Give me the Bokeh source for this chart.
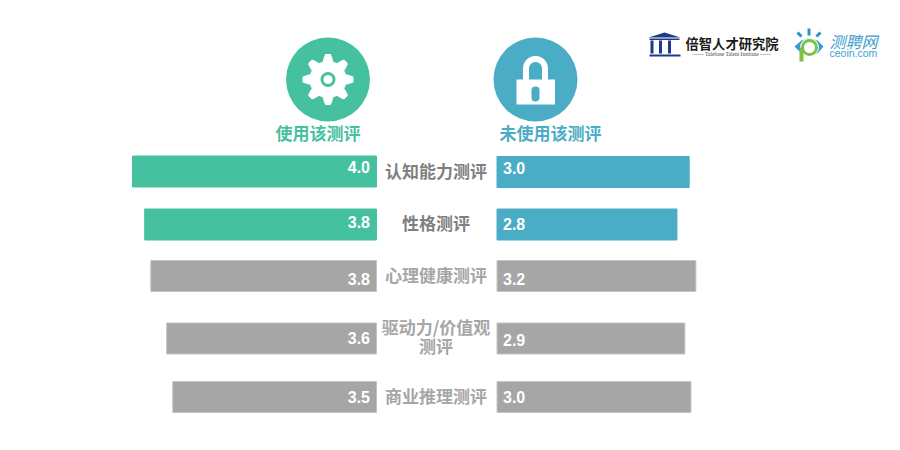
import numpy as np
from bokeh.plotting import figure
from bokeh.models import Range1d
from bokeh.core.properties import value
from bokeh.embed import file_html
from bokeh.resources import INLINE

# ---- data ----
categories = ["认知能力测评", "性格测评", "心理健康测评", "驱动力/价值观\n测评", "商业推理测评"]
used_labels = ["4.0", "3.8", "3.8", "3.6", "3.5"]
unused_labels = ["3.0", "2.8", "3.2", "2.9", "3.0"]
used_bar = [4.0, 3.80, 3.70, 3.44, 3.34]
unused_bar = [3.15, 2.95, 3.26, 3.08, 3.18]
series_names = ["使用该测评", "未使用该测评"]

# ---- layout / style ----
TEAL, BLUE, GREY = "#45C1A0", "#4BACC6", "#A6A6A6"
W, H = 884, 434
PX = 61.0
L0, R0 = 376.0, 496.5
row_y_l = [171, 224, 275.5, 338, 396.5]
row_y_r = [171.5, 224, 275.5, 338, 396.5]
label_y_l = [166, 221, 278, 337, 396]
label_y_r = [167, 223, 278, 339, 396]
bar_h = 31
used_col = [TEAL, TEAL, GREY, GREY, GREY]
unused_col = [BLUE, BLUE, GREY, GREY, GREY]
line_col = [TEAL, TEAL, "#C4C4C4", "#C4C4C4", "#C4C4C4"]
line_col_r = [BLUE, BLUE, "#C4C4C4", "#C4C4C4", "#C4C4C4"]
cat_col = ["#7F7F7F", "#7F7F7F", GREY, GREY, GREY]
CJK = value("Noto Sans CJK SC")
LAT = value("Liberation Sans")

p = figure(width=W, height=H, output_backend="svg", toolbar_location=None,
           x_range=Range1d(0, W), y_range=Range1d(H, 0), min_border=0)
p.axis.visible = False
p.grid.visible = False
p.outline_line_color = None
p.extra_x_ranges = {
    "used": Range1d(L0 / PX, (L0 - W) / PX),
    "unused": Range1d(-R0 / PX, (W - R0) / PX),
}

p.hbar(y=row_y_l, left=0, right=used_bar, height=bar_h, x_range_name="used",
       fill_color=used_col, line_color=line_col, line_width=1, line_join="miter")
p.hbar(y=row_y_r, left=0, right=unused_bar, height=bar_h, x_range_name="unused",
       fill_color=unused_col, line_color=line_col_r, line_width=1, line_join="miter")

p.text(x=[369.5] * 5, y=label_y_l, text=used_labels, text_color="white", text_align="right",
       text_baseline="middle", text_font=LAT, text_font_size="16px", text_font_style="bold")
p.text(x=[502.5] * 5, y=label_y_r, text=unused_labels, text_color="white", text_align="left",
       text_baseline="middle", text_font=LAT, text_font_size="16px", text_font_style="bold")

# category labels
for c, y, col in zip(categories, [170, 222, 274, 0, 395], cat_col):
    parts = c.split("\n")
    ys = [326, 345] if len(parts) == 2 else [y]
    for t, yy in zip(parts, ys):
        p.text(x=[435.5], y=[yy], text=[t], text_color=col, text_align="center", text_baseline="middle",
               text_font=CJK, text_font_size="17px", text_font_style="bold")

# headers
p.text(x=[317.5, 550], y=[132, 132], text=series_names, text_color=[TEAL, BLUE], text_align="center",
       text_baseline="middle", text_font=CJK, text_font_size="17px", text_font_style="bold")

# icon discs
p.circle(x=[327.5, 535], y=[79, 79], radius=42, fill_color=[TEAL, BLUE], line_color=None)

# gear
ang = np.linspace(0, 2 * np.pi, 720, endpoint=False)
rad = 22 + 3.5 * np.clip(1.5 * np.cos(8 * ang), -1, 1)
p.patch(327.5 + rad * np.cos(ang), 79 + rad * np.sin(ang), fill_color="white", line_color=None)
p.circle(x=[327.5], y=[79], radius=7.5, fill_color=TEAL, line_color=None)
p.circle(x=[327.5], y=[79], radius=4.6, fill_color="white", line_color=None)

# lock
p.quad(left=516, right=554.5, top=79, bottom=104, fill_color="white", line_color=None)
t = np.linspace(np.pi, 2 * np.pi, 60)
xs = np.r_[535 + 12.5 * np.cos(t), 547.5, 541.5, 535 + 6.5 * np.cos(t[::-1]), 528.5, 522.5]
ys = np.r_[68 + 12.5 * np.sin(t), 80, 80, 68 + 6.5 * np.sin(t[::-1]), 80, 80]
p.patch(xs, ys, fill_color="white", line_color=None)
p.line(x=[535, 535], y=[90, 97], line_color=BLUE, line_width=8, line_cap="round")

# logo 1
NAVY = "#1F3A8A"
p.patch([648, 664, 680], [37, 32, 37], fill_color=NAVY, line_color=None)
p.quad(left=[649, 650, 658.5, 667.5, 649], right=[679, 653, 661.5, 670.5, 680],
       top=[38, 40, 40, 40, 54], bottom=[39.5, 53, 53, 53, 56], fill_color=NAVY, line_color=None)
p.text(x=[685], y=[43], text=["倍智人才研究院"], text_color="#1A1A1A", text_baseline="middle",
       text_font=CJK, text_font_size="13.3px", text_font_style="bold")
p.text(x=[731.5], y=[53.5], text=["—— Talebase Talent Institute ——"], text_color="#444444", text_align="center",
       text_baseline="middle", text_font=value("Liberation Serif"), text_font_size="5.5px")

# logo 2
p.segment(x0=[808.5, 797, 820], y0=[28, 32, 32], x1=[808.5, 801, 816], y1=[35, 36, 36],
          line_color="#2F8FC8", line_width=3)
p.patch(np.array([794, 801, 809, 817, 823, 817, 809, 801]),
        np.array([46, 40, 37.5, 40, 46, 53, 56, 53]),
        fill_color="#2F9BD0", line_color=None)
p.circle(x=[809], y=[47], radius=9.5, fill_color="white", line_color=None)
p.circle(x=[809], y=[47], radius=7, fill_color="white", line_color="#7CC242", line_width=3)
p.line(x=[801, 801], y=[47, 61], line_color="#7CC242", line_width=4)
p.text(x=[829], y=[40], text=["测聘网"], text_color="#3E9FCE", text_baseline="middle",
       text_font=CJK, text_font_size="16px", text_font_style="italic")
p.text(x=[829], y=[52.5], text=["ceoin.com"], text_color="#3E9FCE", text_baseline="middle",
       text_font=value("Liberation Sans"), text_font_size="10.5px")

open("out.html", "w").write(file_html(p, INLINE))
